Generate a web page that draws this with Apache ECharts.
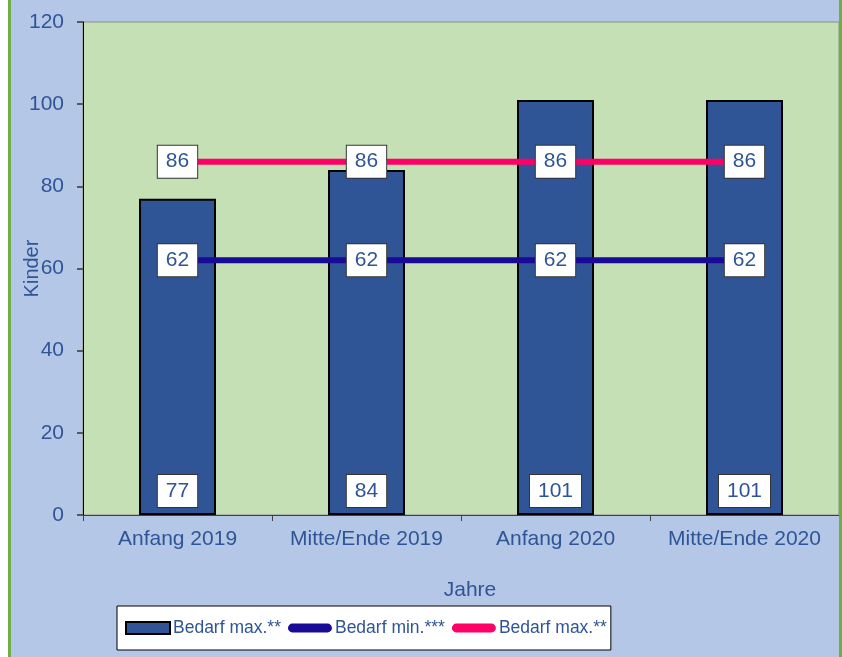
<!DOCTYPE html>
<html>
<head>
<meta charset="utf-8">
<script src="https://cdn.jsdelivr.net/npm/echarts@6/dist/echarts.min.js"></script>
<style>
  html, body { margin: 0; padding: 0; background: #B4C7E7; }
  #chart { width: 842px; height: 657px; }
</style>
</head>
<body>
<div id="chart"></div>
<script>
// Planning periods and child counts
const categories = ['Anfang 2019', 'Mitte/Ende 2019', 'Anfang 2020', 'Mitte/Ende 2020'];
const bedarfMaxBars = [77, 84, 101, 101];
const bedarfMin = [62, 62, 62, 62];
const bedarfMaxLine = [86, 86, 86, 86];
const yTicks = { min: 0, max: 120, interval: 20 };

const textBlue = '#2F5597';
const font = '"Liberation Sans", Arial, sans-serif';

const boxLabel = {
  show: true,
  color: textBlue,
  fontFamily: font,
  fontSize: 21,
  backgroundColor: '#ffffff',
  borderColor: '#333333',
  borderWidth: 1,
  padding: [6, 8, 5, 8]
};

const chart = echarts.init(document.getElementById('chart'), null, { renderer: 'canvas' });

chart.setOption({
  backgroundColor: '#B4C7E7',
  animation: false,
  textStyle: { fontFamily: font },
  graphic: [
    { type: 'rect', left: 0, top: 0, shape: { width: 8, height: 657 }, style: { fill: '#ffffff' }, z: 100 },
    { type: 'rect', left: 8, top: 0, shape: { width: 3, height: 657 }, style: { fill: '#70AD47' }, z: 100 },
    { type: 'rect', left: 839, top: 0, shape: { width: 3, height: 657 }, style: { fill: '#70AD47' }, z: 100 }
  ],
  grid: {
    left: 83, top: 22, right: 3, bottom: 142,
    containLabel: false,
    outerBoundsMode: 'none',
    show: true,
    backgroundColor: '#C5E0B4',
    borderColor: '#8C8C8C',
    borderWidth: 1
  },
  legend: {
    left: 117,
    top: 606,
    backgroundColor: '#ffffff',
    borderColor: '#000000',
    borderWidth: 1,
    padding: [13, 4, 13, 8],
    itemGap: 7,
    itemWidth: 44,
    itemHeight: 12,
    textStyle: { color: textBlue, fontSize: 17.5, fontFamily: font, padding: [0, 0, 0, -2] },
    formatter: name => name.trim(),
    data: [
      { name: 'Bedarf max.**', icon: 'rect' },
      { name: 'Bedarf min.***', icon: 'path://M5,0 L41,0 A4.5,4.5 0 0 1 41,9 L5,9 A4.5,4.5 0 0 1 5,0 Z' },
      { name: 'Bedarf max.** ', icon: 'path://M5,0 L41,0 A4.5,4.5 0 0 1 41,9 L5,9 A4.5,4.5 0 0 1 5,0 Z' }
    ]
  },
  xAxis: {
    type: 'category',
    data: categories,
    boundaryGap: true,
    name: 'Jahre',
    nameLocation: 'middle',
    nameGap: 65,
    nameMoveOverlap: false,
    nameTextStyle: { color: textBlue, fontSize: 21, fontFamily: font, padding: [0, 0, 0, 18] },
    axisLine: { lineStyle: { color: '#404040', width: 1 } },
    axisTick: { show: true, alignWithLabel: false, interval: 0, length: 6, inside: false, lineStyle: { color: '#404040' } },
    axisLabel: { color: textBlue, fontSize: 21, fontFamily: font, margin: 14, interval: 0 }
  },
  yAxis: {
    type: 'value',
    min: yTicks.min,
    max: yTicks.max,
    interval: yTicks.interval,
    name: 'Kinder',
    nameLocation: 'middle',
    nameRotate: 90,
    nameGap: 41,
    nameMoveOverlap: false,
    nameTextStyle: { color: textBlue, fontSize: 20, fontFamily: font },
    axisLine: { show: true, lineStyle: { color: '#000000', width: 1 } },
    axisTick: { show: true, length: 6, lineStyle: { color: '#595959', width: 2 } },
    splitLine: { show: false },
    axisLabel: { color: textBlue, fontSize: 21, fontFamily: font, margin: 19 }
  },
  series: [
    {
      name: 'Bedarf max.**',
      type: 'bar',
      data: bedarfMaxBars,
      barWidth: 77,
      itemStyle: { color: '#2F5597', borderColor: '#000000', borderWidth: 2 },
      label: Object.assign({}, boxLabel, { position: 'insideBottom', distance: 8 }),
      z: 2
    },
    {
      name: 'Bedarf min.***',
      type: 'line',
      data: bedarfMin,
      symbol: 'rect',
      symbolSize: 2,
      lineStyle: { color: '#1A0A99', width: 6 },
      itemStyle: { color: '#1A0A99' },
      label: Object.assign({}, boxLabel, { position: 'inside' }),
      z: 3
    },
    {
      name: 'Bedarf max.** ',
      type: 'line',
      data: bedarfMaxLine,
      symbol: 'rect',
      symbolSize: 2,
      lineStyle: { color: '#FF0066', width: 6 },
      itemStyle: { color: '#FF0066' },
      label: Object.assign({}, boxLabel, { position: 'inside' }),
      z: 3
    }
  ]
});
</script>
</body>
</html>
